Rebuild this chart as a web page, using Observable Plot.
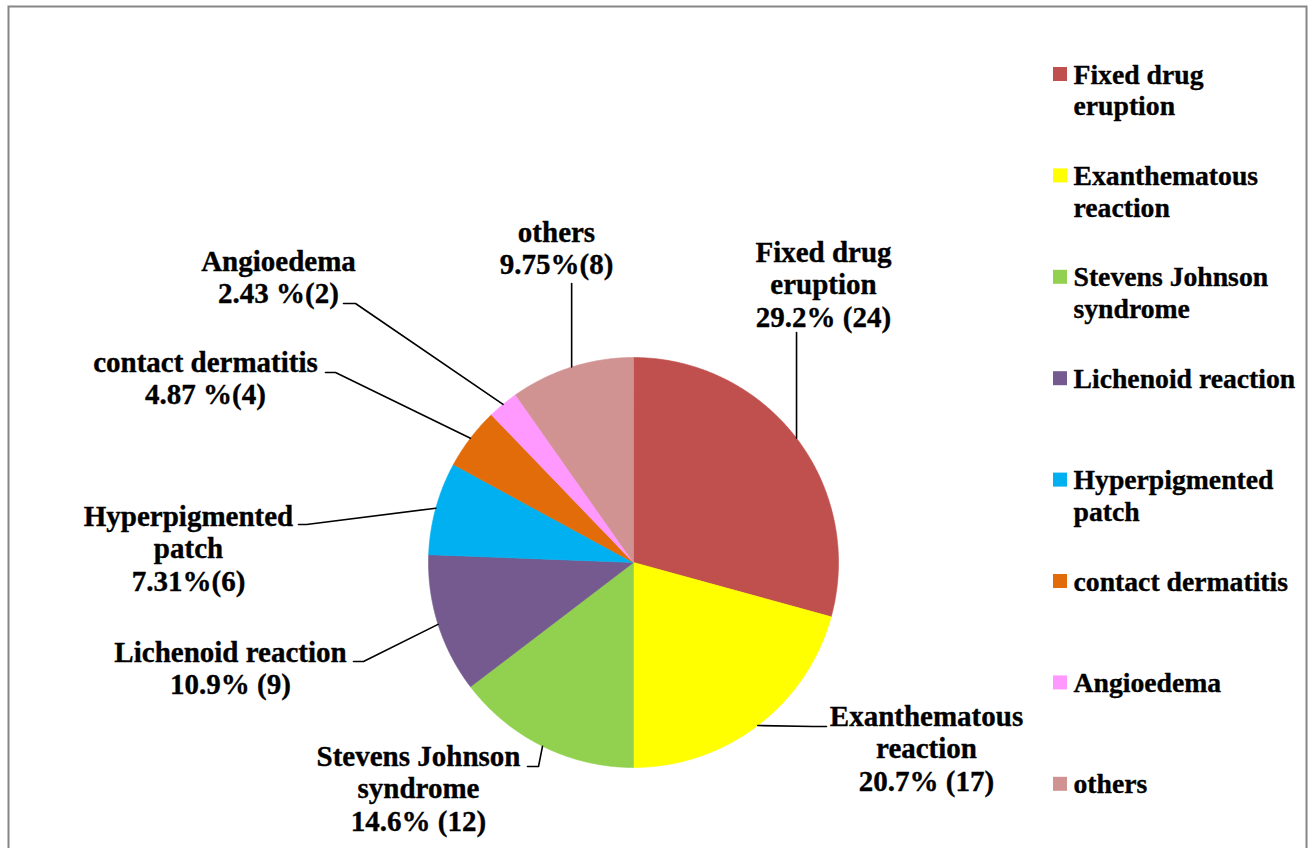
<!DOCTYPE html>
<html>
<head>
<meta charset="utf-8">
<script src="https://cdn.jsdelivr.net/npm/d3@7"></script>
<script src="https://cdn.jsdelivr.net/npm/@observablehq/plot@0.6"></script>
<style>
  html, body { margin: 0; padding: 0; background: #fff; overflow: hidden; }
  #chart svg { display: block; }
</style>
</head>
<body>
<div id="chart"></div>
<script>
// Cutaneous adverse drug reactions, number of cases per type
const categories = ["Fixed drug eruption", "Exanthematous reaction", "Stevens Johnson syndrome",
  "Lichenoid reaction", "Hyperpigmented patch", "contact dermatitis", "Angioedema", "others"];
const counts = [24, 17, 12, 9, 6, 4, 2, 8];
const valueLabels = ["29.2% (24)", "20.7% (17)", "14.6% (12)", "10.9% (9)",
  "7.31%(6)", "4.87 %(4)", "2.43 %(2)", "9.75%(8)"];
const sliceNames = ["Fixed drug\neruption", "Exanthematous\nreaction", "Stevens Johnson\nsyndrome",
  "Lichenoid reaction", "Hyperpigmented\npatch", "contact dermatitis", "Angioedema", "others"];
const legendNames = ["Fixed drug\neruption", "Exanthematous\nreaction", "Stevens Johnson\nsyndrome",
  "Lichenoid reaction", "Hyperpigmented\npatch", "contact dermatitis", "Angioedema", "others"];
const colors = ["#C0504D", "#FFFF00", "#92D050", "#745A8F", "#00B0F0", "#E36C0A", "#FF99FF", "#D19292"];

// ---- layout ----
const W = 1309, H = 848;
const CX = 633, CY = 562, R = 205;          // pie centre and radius
const FONT = "'Liberation Serif', 'Times New Roman', Times, serif";
const LABEL_FS = 29, LABEL_LH = 33 / 29;    // slice labels: font size, line height (em)
const LEG_FS = 27.7, LEG_LH = 32 / 27.7;    // legend entries
// baseline of the first line of each slice label
const labelAt = [[823, 261], [926, 725], [418, 765], [230, 661], [188, 525], [205, 371], [278, 270], [556, 241]];
// leader line points on the label side (null x = straight down to the slice)
const leaderFrom = [
  [[null, 332]],
  [[826, 726], [813, 726]],
  [[527, 766], [538, 766]],
  [[353, 661], [363, 661]],
  [[298, 524], [306, 524]],
  [[325, 372], [335, 372]],
  [[343, 303], [355, 303]],
  [[null, 283]]
];
const LEG_X = 1060, LEG_Y0 = 74, LEG_STEP = 101.4, LEG_BOX = 14, LEG_TEXT_X = 1073;

// ---- pie geometry ----
const arcs = d3.pie().sort(null).value(d => d)(counts);
const slicePts = [];
const tips = [];
arcs.forEach((a, i) => {
  const name = categories[i];
  const n = Math.max(2, Math.ceil((a.endAngle - a.startAngle) / (Math.PI / 360)));
  slicePts.push({name, x: CX, y: CY});
  for (let k = 0; k <= n; k++) {
    const t = a.startAngle + (a.endAngle - a.startAngle) * k / n;
    slicePts.push({name, x: CX + R * Math.sin(t), y: CY - R * Math.cos(t)});
  }
  slicePts.push({name, x: CX, y: CY});
  const mid = (a.startAngle + a.endAngle) / 2;
  tips.push([CX + R * Math.sin(mid), CY - R * Math.cos(mid)]);
});

const leaderPts = [];
categories.forEach((name, i) => {
  const tip = tips[i];
  leaderFrom[i].forEach(([x, y]) => leaderPts.push({id: i, x: x == null ? tip[0] : x, y}));
  leaderPts.push({id: i, x: tip[0], y: tip[1]});
});

const labels = categories.map((name, i) => ({
  text: sliceNames[i] + "\n" + valueLabels[i],
  x: labelAt[i][0],
  y: labelAt[i][1] - 0.71 * LABEL_LH * LABEL_FS
}));

const legend = categories.map((name, i) => ({
  name,
  text: legendNames[i],
  cy: LEG_Y0 + i * LEG_STEP
}));

const textStyle = {fontWeight: "bold", fontFamily: FONT, fill: "#000", stroke: "#000", strokeWidth: 0.35};

const chart = Plot.plot({
  width: W,
  height: H,
  margin: 0,
  x: {domain: [0, W], range: [0, W], axis: null},
  y: {domain: [0, H], range: [0, H], axis: null},
  color: {domain: categories, range: colors},
  style: {background: "#fff"},
  marks: [
    Plot.frame({stroke: "#868686", strokeWidth: 2, insetLeft: 8, insetTop: 6, insetRight: 3, insetBottom: -6}),
    Plot.line(slicePts, {x: "x", y: "y", z: "name", fill: "name", stroke: "name", strokeWidth: 0.6}),
    Plot.line(leaderPts, {x: "x", y: "y", z: "id", stroke: "#000", strokeWidth: 1.6}),
    Plot.text(labels, {
      x: "x", y: "y", text: "text", textAnchor: "middle", lineAnchor: "top",
      lineHeight: LABEL_LH, fontSize: LABEL_FS, ...textStyle
    }),
    Plot.rect(legend, {
      x1: () => LEG_X - LEG_BOX / 2, x2: () => LEG_X + LEG_BOX / 2,
      y1: d => d.cy - LEG_BOX / 2, y2: d => d.cy + LEG_BOX / 2,
      fill: "name"
    }),
    Plot.text(legend, {
      x: () => LEG_TEXT_X, y: d => d.cy + 9 - 0.71 * LEG_LH * LEG_FS, text: "text",
      textAnchor: "start", lineAnchor: "top", lineHeight: LEG_LH, fontSize: LEG_FS, ...textStyle
    })
  ]
});
document.getElementById("chart").appendChild(chart);
</script>
</body>
</html>
